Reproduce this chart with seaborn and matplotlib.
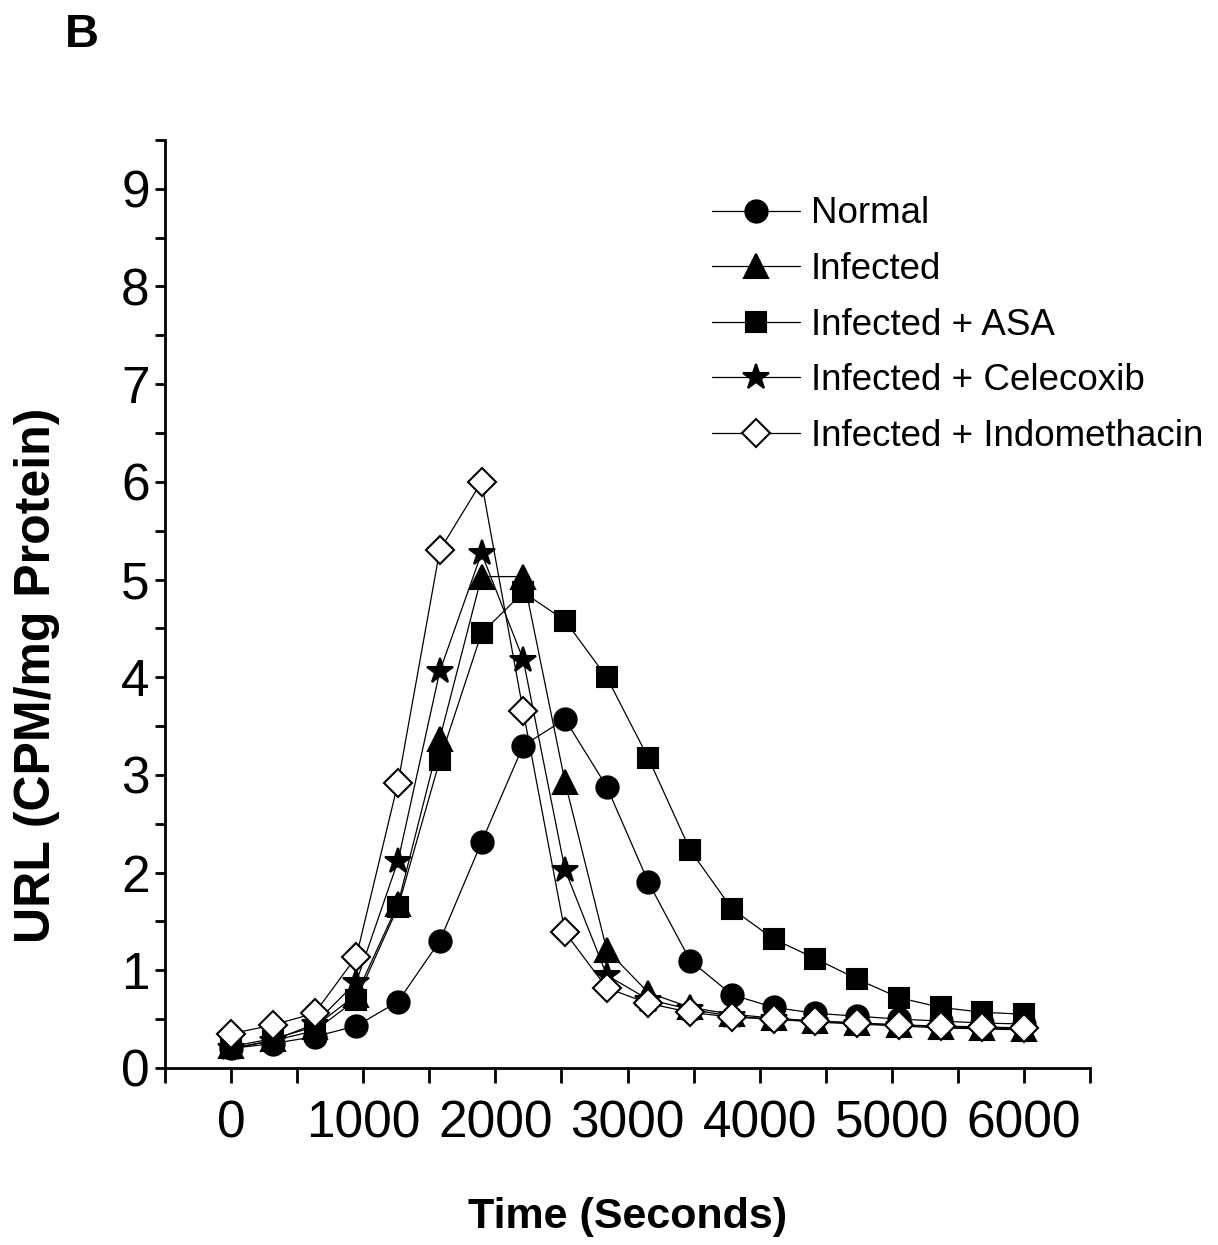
import numpy as np
import pandas as pd
import matplotlib
matplotlib.use("Agg")
import matplotlib.pyplot as plt
import seaborn as sns
from matplotlib.ticker import MultipleLocator

# Data (20 time points, 0 - 6000 s)
time_s = np.linspace(0, 6000, 20)

normal = [0.20, 0.25, 0.32, 0.43, 0.68, 1.30, 2.31, 3.30, 3.57, 2.88,
          1.90, 1.10, 0.75, 0.62, 0.56, 0.53, 0.50, 0.48, 0.46, 0.45]
infected = [0.22, 0.30, 0.42, 0.75, 1.68, 3.37, 5.03, 5.03, 2.93, 1.21,
            0.77, 0.62, 0.55, 0.51, 0.48, 0.46, 0.44, 0.42, 0.41, 0.40]
asa = [0.20, 0.28, 0.38, 0.70, 1.65, 3.15, 4.45, 4.87, 4.58, 4.00,
       3.17, 2.23, 1.63, 1.32, 1.12, 0.91, 0.72, 0.62, 0.57, 0.55]
celecoxib = [0.20, 0.28, 0.45, 0.88, 2.12, 4.06, 5.27, 4.18, 2.03, 0.95,
             0.70, 0.60, 0.53, 0.50, 0.47, 0.45, 0.43, 0.41, 0.40, 0.39]
indomethacin = [0.35, 0.44, 0.56, 1.14, 2.92, 5.30, 6.00, 3.65, 1.39, 0.82,
                0.66, 0.57, 0.52, 0.50, 0.48, 0.46, 0.44, 0.43, 0.42, 0.41]

labels = ["Normal", "Infected", "Infected + ASA", "Infected + Celecoxib",
          "Infected + Indomethacin"]
series = [normal, infected, asa, celecoxib, indomethacin]
markers = ["o", "^", "s", "*", "D"]
msizes = [16, 17, 14, 19, 14]
faces = ["black", "black", "black", "black", "white"]

sns.set_style("ticks")
plt.rcParams["font.family"] = ["Liberation Sans", "DejaVu Sans"]
for key in ["text.color", "axes.labelcolor", "xtick.color", "ytick.color",
            "axes.edgecolor"]:
    plt.rcParams[key] = "black"

fig = plt.figure(figsize=(12.18, 12.45), dpi=100)
ax = fig.add_axes([0.1355, 0.1422, 0.7595, 0.7454])

for lab, vals, m, ms, fc in zip(labels, series, markers, msizes, faces):
    df = pd.DataFrame({"time": time_s, "url": vals})
    sns.lineplot(data=df, x="time", y="url", ax=ax, color="black",
                 linewidth=0.9, marker=m, markersize=ms,
                 markerfacecolor=fc, markeredgecolor="black",
                 markeredgewidth=1.5, label=lab)

ax.set_xlim(-500, 6500)
ax.set_ylim(0, 9.5)
ax.xaxis.set_major_locator(MultipleLocator(1000))
ax.xaxis.set_minor_locator(MultipleLocator(500))
ax.yaxis.set_major_locator(MultipleLocator(1))
ax.yaxis.set_minor_locator(MultipleLocator(0.5))

for side in ["top", "right"]:
    ax.spines[side].set_visible(False)
for side in ["left", "bottom"]:
    ax.spines[side].set_linewidth(2)

ax.tick_params(axis="x", which="both", direction="out", length=11, width=2,
               labelsize=37, pad=12)
ax.tick_params(axis="y", which="both", direction="out", length=7, width=2,
               labelsize=37, pad=4)

ax.set_xlabel("Time (Seconds)", fontsize=31, fontweight="bold", va="center")
ax.xaxis.set_label_coords(0.5, -0.161)
ax.set_ylabel("URL (CPM/mg Protein)", fontsize=36, fontweight="bold", va="center")
ax.yaxis.set_label_coords(-0.138, 0.4235)

leg = ax.legend(loc="upper left", bbox_to_anchor=(0.575, 0.955),
                frameon=False, fontsize=26.5, handlelength=2.4,
                handletextpad=0.3, labelspacing=0.56, borderaxespad=0)

fig.text(0.0534, 1 - 47 / 1245, "B", fontsize=34, fontweight="bold",
         va="baseline")

fig.savefig("out.png", dpi=100)
